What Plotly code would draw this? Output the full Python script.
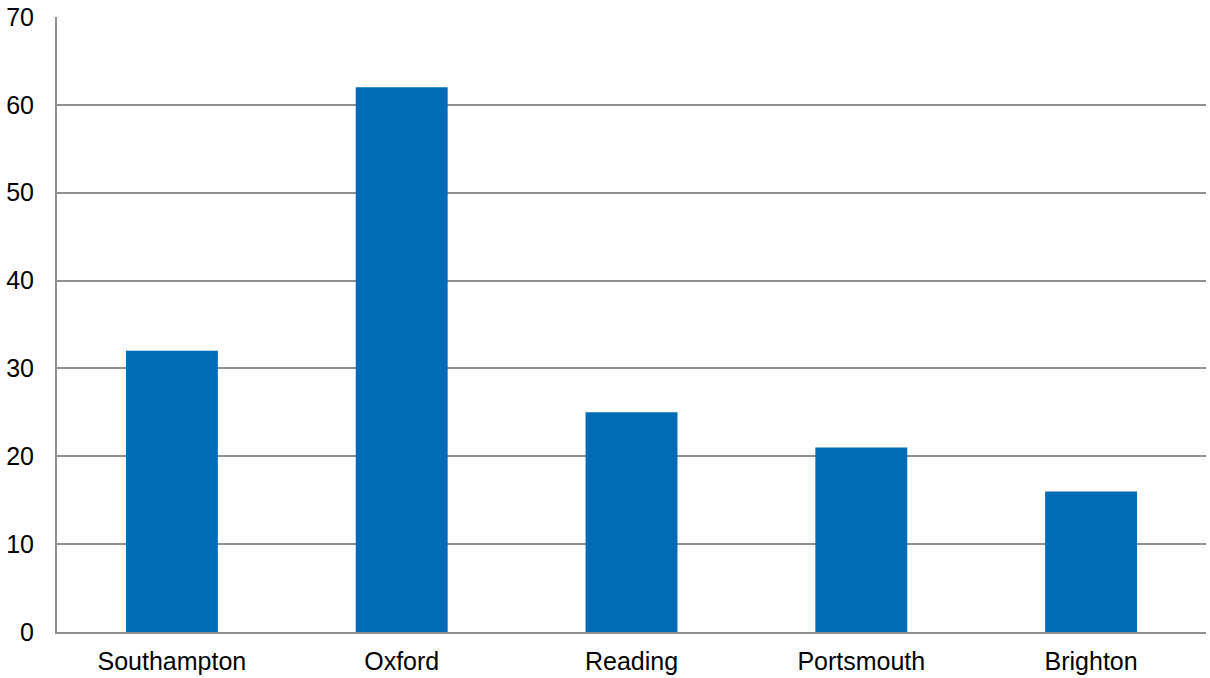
import plotly.graph_objects as go

cities = ["Southampton", "Oxford", "Reading", "Portsmouth", "Brighton"]
values = [32, 62, 25, 21, 16]
y_ticks = [0, 10, 20, 30, 40, 50, 60, 70]

fig = go.Figure(go.Bar(x=cities, y=values, marker=dict(color="#006BB6", line=dict(width=0))))

fig.update_layout(
    width=1210, height=678,
    margin=dict(l=57, r=4, t=17, b=46),
    plot_bgcolor="white", paper_bgcolor="white",
    bargap=0.6,
    showlegend=False,
    font=dict(family="Liberation Sans, Arial, sans-serif", size=25, color="#000000"),
)
fig.update_xaxes(
    showgrid=False, showline=True, linecolor="#909090", linewidth=2,
    ticks="", ticklabelstandoff=6, automargin=False,
    tickfont=dict(size=25),
)
fig.update_yaxes(
    range=[0, 70], tickvals=y_ticks, showgrid=True, gridcolor="#909090", gridwidth=1.5,
    showline=True, linecolor="#909090", linewidth=2, zeroline=False,
    ticks="", ticklabelstandoff=16, automargin=False,
    tickfont=dict(size=25),
)
fig.write_html("out.html")
